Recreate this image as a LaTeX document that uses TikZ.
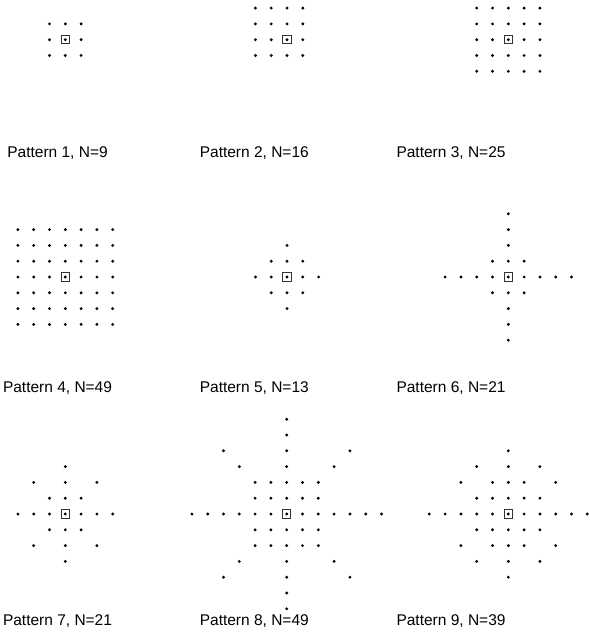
\documentclass[tikz,border=0pt]{standalone}
\usepackage{fontspec}
\setmainfont{Liberation Sans}
\usetikzlibrary{positioning}

\newcommand{\pstep}{15.8}
% one dot of a pattern, i columns right and j rows down from its centre
\newcommand{\pdot}[3]{\fill ([shift={({#2*\pstep},{#3*\pstep})}]#1) circle (1.6pt);}

\begin{document}
\begin{tikzpicture}[x=1pt, y=-1pt, every node/.style={font=\fontsize{15.5}{18}\selectfont},
	ctr/.style={draw=black!80, line width=1pt, minimum size=8.5pt, inner sep=0pt},
	lbl/.style={anchor=base}]
	\useasboundingbox (0,0) rectangle (589,639);
	% centres
	\node[ctr] (c1) at (65.3,39.7) {};
	\node[ctr] (c2) at (287,39.7) {};
	\node[ctr] (c3) at (508.3,39.7) {};
	\node[ctr] (c4) at (65.3,277) {};
	\node[ctr] (c5) at (287,277) {};
	\node[ctr] (c6) at (508.3,277) {};
	\node[ctr] (c7) at (65.3,514) {};
	\node[ctr] (c8) at (286.7,514) {};
	\node[ctr] (c9) at (508.3,514) {};
	% square patterns
	\foreach \i in {-1,...,1} \foreach \j in {-1,...,1} {\pdot{c1}{\i}{\j}}
	\foreach \i in {-2,...,1} \foreach \j in {-2,...,1} {\pdot{c2}{\i}{\j}}
	\foreach \i in {-2,...,2} \foreach \j in {-2,...,2} {\pdot{c3}{\i}{\j}}
	\foreach \i in {-3,...,3} \foreach \j in {-3,...,3} {\pdot{c4}{\i}{\j}}
	% diamond
	\foreach \i in {-1,...,1} \foreach \j in {-1,...,1} {\pdot{c5}{\i}{\j}}
	\pdot{c5}{2}{0} \pdot{c5}{-2}{0} \pdot{c5}{0}{2} \pdot{c5}{0}{-2}
	% cross
	\foreach \i in {-1,...,1} \foreach \j in {-1,...,1} {\pdot{c6}{\i}{\j}}
	\foreach \k in {2,3,4} {\pdot{c6}{\k}{0} \pdot{c6}{-\k}{0} \pdot{c6}{0}{\k} \pdot{c6}{0}{-\k}}
	% small star
	\foreach \i in {-1,...,1} \foreach \j in {-1,...,1} {\pdot{c7}{\i}{\j}}
	\foreach \k in {2,3} {\pdot{c7}{\k}{0} \pdot{c7}{-\k}{0} \pdot{c7}{0}{\k} \pdot{c7}{0}{-\k}}
	\pdot{c7}{2}{2} \pdot{c7}{-2}{2} \pdot{c7}{2}{-2} \pdot{c7}{-2}{-2}
	% large star
	\foreach \i in {-2,...,2} \foreach \j in {-2,...,2} {\pdot{c8}{\i}{\j}}
	\foreach \k in {3,...,6} {\pdot{c8}{\k}{0} \pdot{c8}{-\k}{0} \pdot{c8}{0}{\k} \pdot{c8}{0}{-\k}}
	\foreach \k in {3,4} {\pdot{c8}{\k}{\k} \pdot{c8}{-\k}{\k} \pdot{c8}{\k}{-\k} \pdot{c8}{-\k}{-\k}}
	% round star
	\foreach \i in {-1,...,1} \foreach \j in {-2,...,2} {\pdot{c9}{\i}{\j}}
	\foreach \j in {-1,...,1} {\pdot{c9}{2}{\j} \pdot{c9}{-2}{\j}}
	\foreach \k in {3,4,5} {\pdot{c9}{\k}{0} \pdot{c9}{-\k}{0}}
	\foreach \k in {3,4} {\pdot{c9}{0}{\k} \pdot{c9}{0}{-\k}}
	\foreach \a/\b in {3/2,2/3} {\pdot{c9}{\a}{\b} \pdot{c9}{-\a}{\b} \pdot{c9}{\a}{-\b} \pdot{c9}{-\a}{-\b}}
	% labels
	\node[lbl] (l1) at (57.5,157.3) {Pattern 1, N=9};
	\node[lbl] (l2) at (254.3,157.3) {Pattern 2, N=16};
	\node[lbl] (l3) at (451,157.3) {Pattern 3, N=25};
	\node[lbl] (l4) at (57.5,392.5) {Pattern 4, N=49};
	\node[lbl] (l5) at (254.3,392.5) {Pattern 5, N=13};
	\node[lbl] (l6) at (451,392.5) {Pattern 6, N=21};
	\node[lbl] (l7) at (57.5,625) {Pattern 7, N=21};
	\node[lbl] (l8) at (254.3,625) {Pattern 8, N=49};
	\node[lbl] (l9) at (451,625) {Pattern 9, N=39};
\end{tikzpicture}
\end{document}
